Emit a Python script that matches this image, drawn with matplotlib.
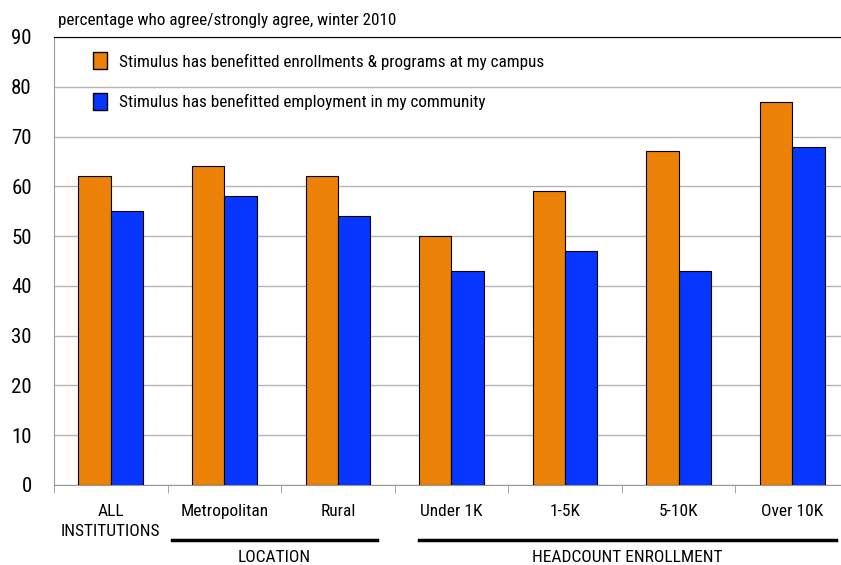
import matplotlib.pyplot as plt
import matplotlib.transforms as mtransforms
from matplotlib import font_manager
from matplotlib.patches import Patch
import numpy as np

# pick a narrow sans face if one is around
installed = set(f.name for f in font_manager.fontManager.ttflist)
narrow = [n for n in ['Arial Narrow', 'Liberation Sans Narrow', 'Nimbus Sans Narrow',
                      'Roboto Condensed', 'PT Sans Narrow', 'Archivo Narrow',
                      'Open Sans Condensed'] if n in installed]
plt.rcParams['font.family'] = narrow[:1] + ['Liberation Sans', 'DejaVu Sans']

categories = ['ALL\nINSTITUTIONS', 'Metropolitan', 'Rural', 'Under 1K', '1-5K', '5-10K', 'Over 10K']
enrollments = [62, 64, 62, 50, 59, 67, 77]
employment = [55, 58, 54, 43, 47, 43, 68]
series_names = ['Stimulus has benefitted enrollments & programs at my campus',
                'Stimulus has benefitted employment in my community']
groups = ['LOCATION', 'HEADCOUNT ENROLLMENT']

orange = '#EB8107'
blue = '#0636FF'

fig = plt.figure(figsize=(8.41, 5.65), dpi=100)
ax = fig.add_axes([54 / 841, 80 / 565, 787 / 841, 448 / 565])

x = np.arange(len(categories))
w = 0.285
ax.bar(x - w / 2, enrollments, w, color=orange, edgecolor='black', linewidth=0.8, zorder=3)
ax.bar(x + w / 2, employment, w, color=blue, edgecolor='black', linewidth=0.8, zorder=3)

ax.set_ylim(0, 90)
ax.set_yticks(range(0, 91, 10))
ax.set_xlim(-0.5, 6.43)
ax.yaxis.grid(True, color='#b5b5b5', linewidth=1, zorder=0)
ax.tick_params(axis='y', length=0, labelsize=15, pad=16)

ax.set_xticks(x)
ax.set_xticklabels(categories, fontsize=12.5, linespacing=1.35)
ax.tick_params(axis='x', which='major', length=0, pad=14)
ax.set_xticks(np.arange(-0.5, 6.5, 1), minor=True)
ax.tick_params(axis='x', which='minor', length=6, color='#999999', direction='out')

ax.spines['right'].set_visible(False)
ax.spines['top'].set_color('black')
ax.spines['left'].set_color('#999999')
ax.spines['bottom'].set_color('#999999')

# group brackets under the category labels
trans = mtransforms.blended_transform_factory(ax.transData, ax.transAxes)
for (x0, x1), name in zip([(0.54, 2.34), (2.71, 6.39)], groups):
    ax.plot([x0, x1], [-0.123, -0.123], color='black', linewidth=2.5,
            transform=trans, clip_on=False)
    ax.text((x0 + x1) / 2, -0.162, name, transform=trans, ha='center', va='center',
            fontsize=12.5)

ax.text(58 / 841, 1 - 20 / 565, 'percentage who agree/strongly agree, winter 2010',
        transform=fig.transFigure, fontsize=12.3, va='center', ha='left')

handles = [Patch(facecolor=orange, edgecolor='black'), Patch(facecolor=blue, edgecolor='black')]
ax.legend(handles, series_names, loc='upper left', bbox_to_anchor=(0.03, 1.0),
          frameon=False, fontsize=12.3, handlelength=0.8, handleheight=1.15,
          labelspacing=1.35, handletextpad=0.7)

fig.savefig('out.png', dpi=100)
